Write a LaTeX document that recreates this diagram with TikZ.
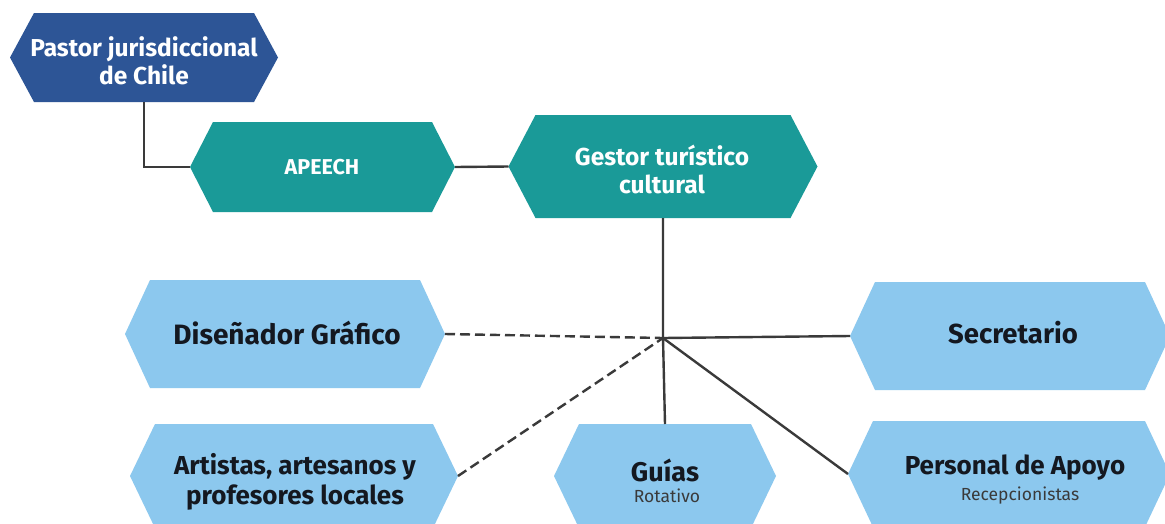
\documentclass[tikz,border=0pt]{standalone}
\usepackage{fontspec}
\setmainfont{Fira Sans}
\usetikzlibrary{calc}
\definecolor{darkblue}{HTML}{2D5596}
\definecolor{teal}{HTML}{1A9A98}
\definecolor{lightblue}{HTML}{8CC8EE}
\definecolor{inkdark}{HTML}{141820}
\definecolor{linegray}{HTML}{3A3A3A}
\tikzset{
  conn/.style={draw=linegray, line width=2.4pt},
  dconn/.style={conn, dash pattern=on 10pt off 5pt},
  wtext/.style={text=white, font=\bfseries, align=center},
  dtext/.style={text=inkdark, font=\bfseries, align=center},
  subtext/.style={text=linegray, font=\fontsize{17.5}{20}\selectfont},
}
% #1 name, #2 cx, #3 cy, #4 half width, #5 half height, #6 inset, #7 fill
\newcommand\hexshape[7]{%
  \fill[#7] ({#2-#4},{#3}) -- ({#2-#4+#6},{#3-#5}) -- ({#2+#4-#6},{#3-#5})
    -- ({#2+#4},{#3}) -- ({#2+#4-#6},{#3+#5}) -- ({#2-#4+#6},{#3+#5}) -- cycle;
  \coordinate (#1-w) at ({#2-#4},{#3});
  \coordinate (#1-e) at ({#2+#4},{#3});
  \coordinate (#1-n) at ({#2},{#3-#5});
  \coordinate (#1-s) at ({#2},{#3+#5});
}
\begin{document}
\begin{tikzpicture}[x=1pt,y=-1pt]
\useasboundingbox (0,0) rectangle (1165,523);
\clip (0,0) rectangle (1165,523);
\fill[white] (0,0) rectangle (1165,523);

\hexshape{pastor}{144}{57.5}{134}{44.5}{24}{darkblue}
\hexshape{apeech}{322.5}{167}{132.5}{45}{23}{teal}
\hexshape{gestor}{663}{166.5}{154.5}{51.5}{27}{teal}
\hexshape{disen}{285}{334}{160}{54}{25}{lightblue}
\hexshape{secre}{1010}{336}{160}{54}{25}{lightblue}
\hexshape{artis}{294}{476}{164}{52}{25}{lightblue}
\hexshape{guias}{665}{476}{111}{52}{25}{lightblue}
\hexshape{perso}{1009}{474}{161}{53}{25}{lightblue}

\node[wtext, font=\bfseries\fontsize{24.5}{28}\selectfont] (tpastor) at (144,61) {Pastor jurisdiccional\\de Chile};
\node[wtext, font=\bfseries\fontsize{21.5}{24}\selectfont] (tapeech) at (322,167) {APEECH};
\node[wtext, font=\bfseries\fontsize{24.5}{28}\selectfont] (tgestor) at (662,169) {Gestor turístico\\cultural};
\node[dtext, font=\bfseries\fontsize{28}{32}\selectfont] (tdisen) at (287,333) {Diseñador Gráfico};
\node[dtext, font=\bfseries\fontsize{27.5}{32}\selectfont] (tsecre) at (1013,333) {Secretario};
\node[dtext, font=\bfseries\fontsize{26}{30}\selectfont] (tartis) at (295,482) {Artistas, artesanos y\\profesores locales};
\node[dtext, font=\bfseries\fontsize{27}{30}\selectfont] (tguias) at (665,470) {Guías};
\node[subtext] (sguias) at (667,496) {Rotativo};
\node[dtext, font=\bfseries\fontsize{26}{30}\selectfont] (tperso) at (1015,468) {Personal de Apoyo};
\node[subtext] (sperso) at (1020,496) {Recepcionistas};

\coordinate (hub) at (663,338);

\draw[conn] (pastor-s) |- (apeech-w);
\draw[conn] (apeech-e) -- (gestor-w);
\draw[conn] (gestor-s) -- (hub) -- (guias-n);
\draw[conn] (hub) -- (secre-w);
\draw[conn] (hub) -- (perso-w);
\draw[dconn] (disen-e) -- (hub);
\draw[dconn] (artis-e) -- (hub);
\end{tikzpicture}
\end{document}
